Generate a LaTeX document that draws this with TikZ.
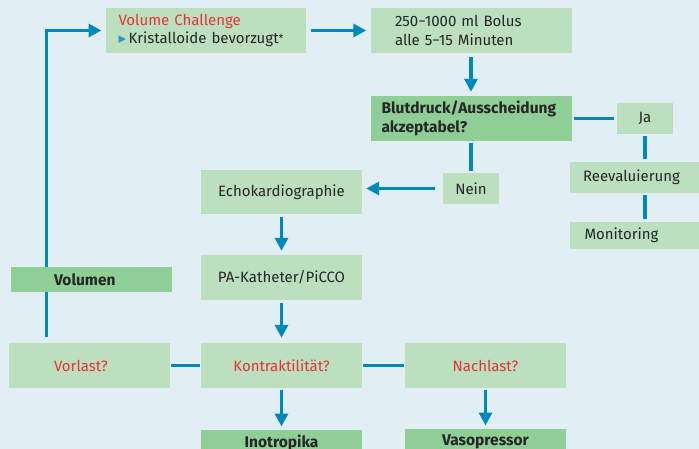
\documentclass[tikz,border=0pt]{standalone}
\usepackage{fontspec}
\setmainfont{Fira Sans}
\newfontfamily\symbolfont{DejaVu Sans}
\usetikzlibrary{positioning, arrows.meta}

\definecolor{paleblue}{RGB}{225,238,244}
\definecolor{softgreen}{RGB}{187,223,191}
\definecolor{deepgreen}{RGB}{143,206,150}
\definecolor{flowblue}{RGB}{0,137,187}
\definecolor{bulletblue}{RGB}{40,150,200}
\definecolor{alertred}{RGB}{230,50,56}
\definecolor{ink}{RGB}{38,38,38}

\newcommand\boxfont{\fontsize{15}{18.5}\selectfont}
\newcommand\keyfont{\fontsize{15.5}{18.5}\selectfont\bfseries}
\hyphenpenalty=10000

\begin{document}
\begin{tikzpicture}[x=1pt, y=-1pt, on grid, node distance=88pt,
  softbox/.style={rectangle, fill=softgreen, text=ink, inner sep=0pt, font=\boxfont,
    minimum width=161pt, minimum height=45pt, align=center},
  keybox/.style={softbox, fill=deepgreen, font=\keyfont, minimum height=25pt},
  leftbox/.style 2 args={text width=#1, inner xsep=#2, align=left},
  smallbox/.style={minimum width=56pt, minimum height=31pt},
  question/.style={text=alertred},
  flowline/.style={draw=flowblue, line width=3.3pt},
  flowarrow/.style={flowline, -{Triangle[length=13pt, width=13pt]}}]

  \useasboundingbox (0,0) rectangle (699,449);
  \fill[paleblue] (0,0) rectangle (699,449);

  % top row
  \node[softbox, leftbox={175pt}{12.5pt}] (challenge) at (206,30.5)
    {\textcolor{alertred}{Volume Challenge}\\{\symbolfont\fontsize{15}{15}\selectfont\textcolor{bulletblue}{▸}}\,Kristalloide bevorzugt\raisebox{1pt}{\fontsize{11}{11}\selectfont*}};
  \node[softbox, leftbox={152pt}{24.5pt}, right=265pt of challenge] (bolus)
    {250−1000 ml Bolus\\alle 5−15 Minuten};
  \node[keybox, leftbox={179pt}{11pt}, minimum height=45pt, below=88pt of bolus] (check)
    {Blutdruck/Ausscheidung\\akzeptabel?};

  % ja / nein
  \node[softbox, smallbox, right=174pt of check] (yes) {Ja};
  \node[softbox, smallbox, below=70pt of check] (no) {Nein};
  \node[softbox, leftbox={135pt}{13pt}, minimum height=31pt, below right=59pt and 5.5pt of yes] (reassess) {Reevaluierung};
  \node[softbox, leftbox={132pt}{14.5pt}, minimum height=27pt, below=58pt of reassess] (monitor) {Monitoring};

  % diagnostics
  \node[softbox, minimum height=44pt] (echo) at (281.5,192) {Echokardiographie};
  \node[softbox, below=85.5pt of echo] (pac) {PA-Katheter/PiCCO};
  \node[softbox, question, below=88pt of pac] (contract) {Kontraktilität?};
  \node[softbox, question, leftbox={71pt}{45pt}, left=192pt of contract] (preload) {Vorlast?};
  \node[softbox, question, right=204pt of contract] (afterload) {Nachlast?};
  \node[keybox, below=77pt of contract] (inotrop) {Inotropika};
  \node[keybox, below=76pt of afterload] (vaso) {Vasopressor};

  \draw[flowarrow, shorten <=6pt, shorten >=4.3pt] ([xshift=37.5pt]preload.north west) |- (challenge.west);
  \node[keybox, leftbox={75pt}{43pt}, above right=86pt and 2pt of preload] (volume) {Volumen};

  \draw[flowarrow, shorten <=4.5pt, shorten >=4pt] (challenge) -- (bolus);
  \draw[flowarrow, shorten <=4pt, shorten >=4pt] (bolus) -- (check);
  \draw[flowline, shorten <=2pt, shorten >=3pt] (check) -- (yes);
  \draw[flowline, shorten <=2pt, shorten >=3pt] (yes) -- (yes |- reassess.north);
  \draw[flowline, shorten <=2pt, shorten >=3pt] (reassess.south -| yes) -- (monitor.north -| yes);
  \draw[flowline, shorten <=2pt, shorten >=2pt] (check) -- (no);
  \draw[flowarrow, shorten <=8pt, shorten >=4pt] (no) -- (no -| echo.east);
  \draw[flowarrow, shorten <=3pt, shorten >=4pt] (echo) -- (pac);
  \draw[flowarrow, shorten <=3pt, shorten >=5pt] (pac) -- (contract);
  \draw[flowline, shorten <=1pt, shorten >=1pt] (preload) -- (contract);
  \draw[flowline, shorten <=1pt, shorten >=1pt] (contract) -- (afterload);
  \draw[flowarrow, shorten <=2pt, shorten >=3.3pt] (contract) -- (inotrop);
  \draw[flowarrow, shorten <=2pt, shorten >=3.3pt] (afterload) -- (vaso);
\end{tikzpicture}
\end{document}
